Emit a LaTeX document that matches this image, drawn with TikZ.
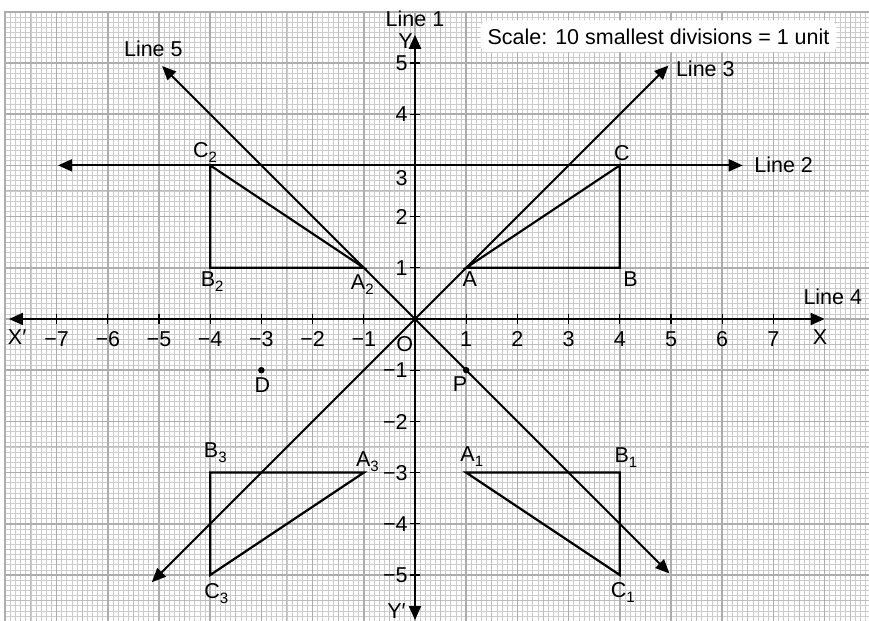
\documentclass[tikz,border=0pt]{standalone}
\usepackage{fontspec}
\setmainfont{Liberation Sans}
\usepackage{xcolor}
\usepackage{tikz}
\usetikzlibrary{arrows.meta}

\definecolor{gridminor}{gray}{0.80}
\definecolor{gridhalf}{gray}{0.74}
\definecolor{gridmajor}{gray}{0.68}

\newcommand{\lowsub}[1]{\raisebox{-5pt}{\fontsize{15}{15}\selectfont #1}}

\begin{document}
\begin{tikzpicture}[x=1.8cm, y=1.8cm,
  lbl/.style={font=\fontsize{21.5}{25}\selectfont, inner sep=0pt, anchor=base},
  ylbl/.style={lbl, anchor=base east},
  axis/.style={line width=2pt, {Triangle[length=14pt,width=12pt]}-{Triangle[length=14pt,width=12pt]}},
  tick/.style={line width=1.3pt},
  tri/.style={line width=2.2pt, line join=miter},
  pt/.style={circle, fill, inner sep=0pt, minimum size=6.5pt}
]
  \useasboundingbox (-8.105,-5.898) rectangle (8.867,6.23);
  \fill[white] (-8.105,-5.898) rectangle (8.867,6.23);

  % Graph paper
  \begin{scope}
    \clip (-8,-5.898) rectangle (8.867,6);
    \draw[gridminor, line width=0.7pt] (-8,-6) grid[step=0.1] (8.9,6);
    \draw[gridhalf, line width=1pt] (-8,-6) grid[step=0.5] (8.9,6);
    \draw[gridmajor, line width=1.6pt] (-8,-6) grid[step=1] (8.9,6);
  \end{scope}
  \draw[gridmajor, line width=2pt] (-8,-5.898) -- (-8,6) -- (8.867,6);

  % Scale note (top right)
  \node[lbl, fill=white, rounded corners=7pt, inner xsep=7pt, inner ysep=8pt] (scale) at (4.756,5.37)
    {Scale: 10 smallest divisions = 1 unit};

  % End points of the lines
  \coordinate (O) at (0,0);
  \coordinate (xl) at (-7.93,0);
  \coordinate (xr) at (8.0,0);
  \coordinate (yb) at (0,-5.88);
  \coordinate (yt) at (0,5.55);
  \coordinate (l2l) at (-6.97,3);
  \coordinate (l2r) at (6.4,3);
  \coordinate (l3a) at (-5.14,-5.14);
  \coordinate (l3b) at (4.95,4.95);
  \coordinate (l5a) at (-4.94,4.94);
  \coordinate (l5b) at (4.97,-4.97);

  % Lines 1 to 5
  \draw[axis] (xl) -- (xr);
  \draw[axis] (yb) -- (yt);
  \draw[axis] (l2l) -- (l2r);
  \draw[axis] (l3a) -- (l3b);
  \draw[axis] (l5a) -- (l5b);

  % Ticks and scale numbers
  \foreach \k in {1,...,7} {
    \draw[tick] (\k,-0.1) -- (\k,0.1);
    \draw[tick] (-\k,-0.1) -- (-\k,0.1);
    \node[lbl] (xp\k) at (\k,-0.53) {\k};
    \node[lbl] (xn\k) at (-\k,-0.53) {−\k};
  }
  \foreach \k in {1,...,5} {
    \draw[tick] (-0.1,\k) -- (0.1,\k);
    \draw[tick] (-0.1,-\k) -- (0.1,-\k);
    \node[ylbl] (yn\k) at (-0.14,-\k-0.15) {−\k};
  }
  \foreach \k in {1,2,4,5}
    \node[ylbl] (yp\k) at (-0.14,\k-0.15) {\k};
  \node[ylbl] (yp3) at (-0.14,2.6) {3};

  % Triangles
  \coordinate (A) at (1,1);   \coordinate (B) at (4,1);   \coordinate (C) at (4,3);
  \coordinate (A1) at (1,-3); \coordinate (B1) at (4,-3); \coordinate (C1) at (4,-5);
  \coordinate (A2) at (-1,1); \coordinate (B2) at (-4,1); \coordinate (C2) at (-4,3);
  \coordinate (A3) at (-1,-3); \coordinate (B3) at (-4,-3); \coordinate (C3) at (-4,-5);
  \draw[tri] (A) -- (B) -- (C) -- cycle;
  \draw[tri] (A1) -- (B1) -- (C1) -- cycle;
  \draw[tri] (A2) -- (B2) -- (C2) -- cycle;
  \draw[tri] (A3) -- (B3) -- (C3) -- cycle;

  % Points D and P
  \node[pt] (D) at (-3,-1) {};
  \node[pt] (P) at (1,-1) {};

  % Labels
  \node[lbl] (line1) at (0,5.72) {Line 1};
  \node[lbl] (line2) at (7.2,2.87) {Line 2};
  \node[lbl] (line3) at (5.67,4.73) {Line 3};
  \node[lbl] (line4) at (8.16,0.29) {Line 4};
  \node[lbl] (line5) at (-5.11,5.12) {Line 5};
  \node[lbl] (ylab) at (-0.185,5.29) {Y};
  \node[lbl] (yplab) at (-0.36,-5.84) {Y′};
  \node[lbl] (xlab) at (7.91,-0.49) {X};
  \node[lbl] (xplab) at (-7.77,-0.49) {X′};
  \node[lbl] (olab) at (-0.2,-0.64) {O};

  \node[lbl] (alab) at (1.07,0.625) {A};
  \node[lbl] (blab) at (4.21,0.625) {B};
  \node[lbl] (clab) at (4.04,3.1) {C};
  \node[lbl] (a1lab) at (1.11,-2.79) {A\lowsub{1}};
  \node[lbl] (b1lab) at (4.12,-2.81) {B\lowsub{1}};
  \node[lbl] (c1lab) at (4.06,-5.43) {C\lowsub{1}};
  \node[lbl] (a2lab) at (-1.03,0.57) {A\lowsub{2}};
  \node[lbl] (b2lab) at (-3.96,0.625) {B\lowsub{2}};
  \node[lbl] (c2lab) at (-4.1,3.16) {C\lowsub{2}};
  \node[lbl] (a3lab) at (-0.93,-2.89) {A\lowsub{3}};
  \node[lbl] (b3lab) at (-3.9,-2.71) {B\lowsub{3}};
  \node[lbl] (c3lab) at (-3.88,-5.45) {C\lowsub{3}};
  \node[lbl] (dlab) at (-2.98,-1.43) {D};
  \node[lbl] (plab) at (0.88,-1.41) {P};

\end{tikzpicture}
\end{document}
